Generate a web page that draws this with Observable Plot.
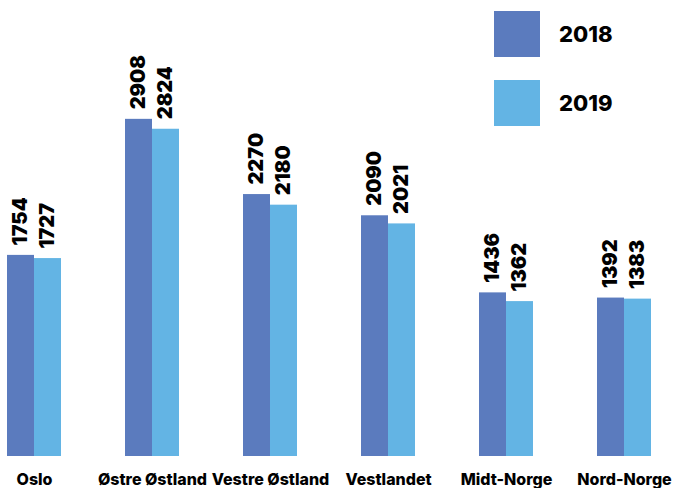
<!DOCTYPE html>
<html>
<head>
<meta charset="utf-8">
<script src="https://cdn.jsdelivr.net/npm/d3@7"></script>
<script src="https://cdn.jsdelivr.net/npm/@observablehq/plot@0.6"></script>
<style>
  html, body { margin: 0; padding: 0; background: #fff; }
  #wrap { position: relative; width: 684px; height: 488px; font-family: Inter, "Noto Sans", sans-serif; }
  #legend { position: absolute; left: 494px; top: 11px; }
  .item { display: flex; align-items: center; height: 46px; margin-bottom: 23px; }
  .sw { width: 46px; height: 46px; }
  .lab { margin-left: 19px; font-size: 22px; font-weight: 800; color: #000; }
</style>
</head>
<body>
<div id="wrap"></div>
<script>
const regions = ["Oslo", "Østre Østland", "Vestre Østland", "Vestlandet", "Midt-Norge", "Nord-Norge"];
const years = ["2018", "2019"];
const values2018 = [1754, 2908, 2270, 2090, 1436, 1392];
const values2019 = [1727, 2824, 2180, 2021, 1362, 1383];
const colors = ["#5b7bbe", "#63b4e4"];

const data = [];
regions.forEach((r, i) => {
  data.push({region: r, year: years[0], value: values2018[i]});
  data.push({region: r, year: years[1], value: values2019[i]});
});

const chart = Plot.plot({
  width: 684,
  height: 488,
  marginLeft: 7,
  marginRight: 33,
  marginTop: 108,
  marginBottom: 32,
  style: {fontFamily: "Inter, 'Noto Sans', sans-serif", background: "white"},
  fx: {domain: regions, paddingInner: 0.5424, paddingOuter: 0, label: null, axis: null},
  x: {domain: years, padding: 0, axis: null},
  y: {domain: [48, 3000], axis: null},
  color: {domain: years, range: colors},
  marks: [
    Plot.barY(data, {fx: "region", x: "year", y: "value", fill: "year", clip: true}),
    Plot.text(data, {
      fx: "region", x: "year", y: "value", text: d => String(d.value),
      rotate: -90, textAnchor: "start", dy: -10,
      fontSize: 20, fontWeight: 900, fill: "#000"
    }),
    Plot.axisFx({anchor: "bottom", tickSize: 0, tickPadding: 17, fontSize: 16, fontWeight: 800, fill: "#000", label: null})
  ]
});

const wrap = document.getElementById("wrap");
wrap.appendChild(chart);

const legend = document.createElement("div");
legend.id = "legend";
years.forEach((y, i) => {
  const item = document.createElement("div");
  item.className = "item";
  const sw = document.createElement("div");
  sw.className = "sw";
  sw.style.background = colors[i];
  const lab = document.createElement("div");
  lab.className = "lab";
  lab.textContent = y;
  item.appendChild(sw);
  item.appendChild(lab);
  legend.appendChild(item);
});
wrap.appendChild(legend);
</script>
</body>
</html>
